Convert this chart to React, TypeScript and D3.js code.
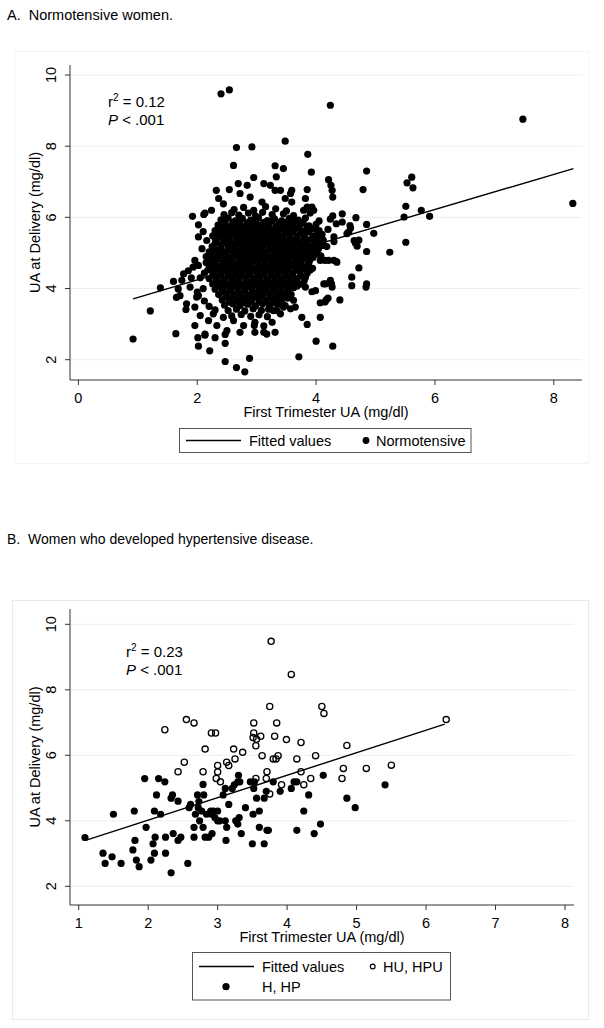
import React from "react";
import * as d3 from "d3";

// tick values
const xTicksA = [0, 2, 4, 6, 8];
const xTicksB = [1, 2, 3, 4, 5, 6, 7, 8];
const yTicks = [2, 4, 6, 8, 10];

// fitted regression lines (end points)
const fitA: [number, number][] = [[0.92, 3.71], [8.33, 7.37]];
const fitB: [number, number][] = [[1.11, 3.41], [6.27, 6.95]];

// panel A, normotensive women: scattered points around the cloud
const normoSpread: [number, number][] = [
  [0.92, 2.58], [1.21, 3.37], [1.38, 4.02], [1.64, 2.73], [1.81, 3.41], [2.40, 9.47], [2.54, 9.58], [4.24, 9.15],
  [7.48, 8.76], [8.32, 6.39], [2.66, 7.96], [2.92, 7.98], [3.48, 8.14], [2.61, 7.46], [3.31, 7.45], [3.45, 7.37],
  [3.86, 7.77], [3.92, 7.27], [3.33, 7.14], [1.92, 6.03], [2.11, 6.08], [2.02, 5.79], [2.02, 2.38], [2.21, 2.25],
  [2.47, 1.95], [2.66, 1.78], [2.80, 1.66], [2.88, 2.04], [3.71, 2.08], [4.00, 2.52], [4.28, 2.38], [3.76, 3.19],
  [3.85, 2.99], [4.07, 3.19], [2.01, 2.62], [2.13, 2.69], [2.30, 2.62], [1.96, 2.96], [2.47, 2.46], [2.47, 2.71],
  [2.97, 2.77], [3.17, 2.72], [2.96, 2.96], [3.12, 2.95], [4.21, 7.06], [4.25, 6.90], [4.27, 6.76], [4.28, 6.57],
  [4.85, 7.30], [4.79, 6.78], [5.61, 7.13], [5.53, 6.97], [5.63, 6.83], [5.51, 6.31], [5.77, 6.20], [5.91, 6.03],
  [5.48, 6.01], [5.51, 5.30], [5.24, 5.02], [4.97, 5.55], [4.85, 5.80], [4.85, 5.04], [4.67, 5.99], [4.57, 5.77],
  [4.44, 6.10], [4.28, 6.04], [4.34, 5.82], [4.58, 5.70], [4.66, 5.28], [4.72, 4.58], [4.60, 4.32], [4.60, 4.08],
  [4.85, 4.13], [4.84, 4.04], [4.40, 3.68], [4.21, 4.79], [4.07, 4.79], [4.34, 4.76], [4.17, 3.68], [4.07, 3.60],
  [3.96, 6.20], [3.85, 6.29], [4.30, 5.45], [4.55, 5.59], [4.64, 5.35], [4.13, 5.21], [4.07, 5.45], [3.99, 5.07],
  [4.24, 4.23], [4.13, 4.13], [4.26, 4.13], [3.99, 3.94], [4.52, 5.54], [4.72, 5.36], [4.69, 5.19], [4.24, 5.95],
  [4.44, 5.87], [2.95, 7.12], [2.69, 6.95], [2.84, 6.90], [2.54, 6.78], [2.32, 6.76], [2.36, 6.53], [2.44, 6.38],
  [2.24, 6.20], [2.13, 6.12], [2.72, 6.67], [2.89, 6.57], [3.09, 6.43], [3.12, 6.95], [3.23, 6.90], [3.31, 6.76],
  [3.59, 6.76], [3.57, 6.67], [3.85, 6.78], [3.82, 6.53], [3.40, 6.76], [3.48, 6.53], [3.59, 6.43], [3.79, 6.20],
  [3.93, 6.29], [2.02, 5.45], [2.16, 5.35], [2.08, 5.12], [1.96, 4.79], [1.93, 4.60], [2.02, 4.65], [1.77, 4.41],
  [1.74, 4.23], [1.68, 3.99], [1.71, 3.80], [1.88, 4.04], [1.82, 3.57], [1.99, 3.76], [1.96, 3.48], [2.05, 3.24],
  [2.13, 2.72], [2.19, 3.10], [2.33, 2.96], [2.50, 2.82], [2.72, 2.77], [3.12, 2.77], [2.97, 3.05], [2.78, 2.96],
  [2.61, 3.10], [2.44, 3.19], [2.27, 3.29], [3.93, 3.91], [3.82, 4.04], [3.62, 3.67], [3.51, 3.86], [3.39, 3.76],
  [3.34, 3.57], [3.45, 3.48], [3.57, 3.43], [3.65, 3.48], [3.40, 3.29], [3.28, 3.38], [3.26, 3.05], [3.31, 2.77],
  [4.15, 3.62], [4.20, 3.73], [4.16, 4.13], [4.27, 4.04], [4.35, 4.74], [4.30, 4.79], [4.15, 4.79], [2.10, 5.60],
  [2.15, 4.90], [2.05, 4.30], [2.10, 4.00], [2.00, 3.90], [1.90, 4.30], [2.12, 3.65], [2.20, 3.50], [2.30, 3.40],
  [1.85, 4.50], [1.60, 4.20], [1.65, 3.75], [2.02, 3.80],
];

// panel A: the dense middle of the cloud
const normoCore: [number, number][] = [
  [2.62, 6.22], [2.78, 6.28], [2.95, 6.2], [3.15, 6.3], [3.32, 6.24], [3.5, 6.18],
  [2.45, 6.08], [2.58, 6.13], [2.7, 6.06], [2.86, 6.12], [2.98, 6.04], [3.1, 6.14], [3.26, 6.08], [3.45, 6.1], [3.62, 6.05], [3.9, 6.12],
  [2.4, 5.93], [2.52, 5.98], [2.64, 5.9], [2.76, 5.97], [2.9, 5.92], [3.03, 5.99], [3.18, 5.91], [3.3, 5.96], [3.42, 5.9], [3.55, 5.97], [3.7, 5.92], [3.82, 5.98], [4.05, 5.9],
  [2.35, 5.78], [2.47, 5.83], [2.58, 5.76], [2.7, 5.82], [2.82, 5.77], [2.94, 5.84], [3.06, 5.78], [3.2, 5.82], [3.34, 5.76], [3.47, 5.83], [3.6, 5.78], [3.74, 5.81], [3.88, 5.76], [4.0, 5.8],
  [2.3, 5.63], [2.42, 5.68], [2.55, 5.62], [2.66, 5.67], [2.78, 5.61], [2.9, 5.66], [3.0, 5.62], [3.12, 5.68], [3.25, 5.63], [3.38, 5.67], [3.5, 5.61], [3.63, 5.66], [3.78, 5.62], [3.92, 5.67], [4.05, 5.63], [4.2, 5.66],
  [2.26, 5.48], [2.38, 5.52], [2.5, 5.47], [2.6, 5.53], [2.72, 5.49], [2.84, 5.52], [2.96, 5.46], [3.08, 5.51], [3.18, 5.48], [3.3, 5.53], [3.42, 5.47], [3.55, 5.52], [3.68, 5.48], [3.8, 5.51], [3.95, 5.47], [4.1, 5.52],
  [2.32, 5.33], [2.44, 5.37], [2.56, 5.32], [2.68, 5.36], [2.8, 5.31], [2.9, 5.37], [3.02, 5.33], [3.14, 5.36], [3.26, 5.32], [3.36, 5.38], [3.48, 5.33], [3.6, 5.36], [3.72, 5.31], [3.86, 5.37], [4.0, 5.33], [4.12, 5.36], [4.3, 5.32],
  [2.25, 5.18], [2.4, 5.22], [2.52, 5.17], [2.63, 5.23], [2.75, 5.19], [2.86, 5.22], [2.98, 5.16], [3.1, 5.21], [3.22, 5.18], [3.32, 5.23], [3.44, 5.17], [3.56, 5.22], [3.66, 5.18], [3.78, 5.21], [3.9, 5.17], [4.05, 5.22], [4.18, 5.18],
  [2.2, 5.03], [2.34, 5.07], [2.46, 5.02], [2.58, 5.06], [2.7, 5.01], [2.82, 5.07], [2.93, 5.03], [3.05, 5.06], [3.16, 5.02], [3.28, 5.08], [3.4, 5.03], [3.52, 5.06], [3.62, 5.01], [3.74, 5.07], [3.86, 5.03], [3.98, 5.06],
  [2.28, 4.88], [2.4, 4.92], [2.52, 4.87], [2.64, 4.93], [2.76, 4.89], [2.88, 4.92], [3.0, 4.86], [3.1, 4.91], [3.22, 4.88], [3.34, 4.93], [3.46, 4.87], [3.58, 4.92], [3.7, 4.88], [3.82, 4.91], [3.95, 4.87], [4.08, 4.92],
  [2.15, 4.73], [2.3, 4.77], [2.43, 4.72], [2.55, 4.76], [2.67, 4.71], [2.79, 4.77], [2.9, 4.73], [3.02, 4.76], [3.14, 4.72], [3.26, 4.78], [3.38, 4.73], [3.5, 4.76], [3.62, 4.71], [3.75, 4.77], [3.88, 4.73],
  [2.22, 4.58], [2.36, 4.62], [2.48, 4.57], [2.6, 4.63], [2.72, 4.59], [2.84, 4.62], [2.96, 4.56], [3.08, 4.61], [3.2, 4.58], [3.3, 4.63], [3.42, 4.57], [3.54, 4.62], [3.66, 4.58], [3.8, 4.61], [3.94, 4.57],
  [2.12, 4.43], [2.28, 4.47], [2.4, 4.42], [2.52, 4.46], [2.64, 4.41], [2.76, 4.47], [2.88, 4.43], [3.0, 4.46], [3.12, 4.42], [3.24, 4.48], [3.36, 4.43], [3.48, 4.46], [3.6, 4.41], [3.72, 4.47], [3.85, 4.43],
  [2.2, 4.28], [2.34, 4.32], [2.46, 4.27], [2.58, 4.33], [2.7, 4.29], [2.82, 4.32], [2.94, 4.26], [3.06, 4.31], [3.18, 4.28], [3.3, 4.33], [3.42, 4.27], [3.55, 4.32], [3.68, 4.28], [3.82, 4.31],
  [2.26, 4.13], [2.4, 4.17], [2.52, 4.12], [2.64, 4.16], [2.76, 4.11], [2.88, 4.17], [3.0, 4.13], [3.12, 4.16], [3.24, 4.12], [3.36, 4.18], [3.48, 4.13], [3.6, 4.16], [3.74, 4.12],
  [2.3, 3.98], [2.44, 4.02], [2.56, 3.97], [2.68, 4.03], [2.8, 3.99], [2.92, 4.02], [3.04, 3.96], [3.16, 4.01], [3.28, 3.98], [3.4, 4.03], [3.52, 3.97], [3.62, 4.02],
  [2.36, 3.83], [2.5, 3.87], [2.62, 3.82], [2.74, 3.86], [2.86, 3.81], [2.98, 3.87], [3.1, 3.83], [3.22, 3.86], [3.34, 3.82], [3.46, 3.88], [3.58, 3.83],
  [2.42, 3.68], [2.55, 3.72], [2.68, 3.67], [2.8, 3.73], [2.92, 3.69], [3.04, 3.72], [3.16, 3.66], [3.28, 3.71], [3.4, 3.68], [3.52, 3.73],
  [2.46, 3.53], [2.6, 3.57], [2.72, 3.52], [2.85, 3.56], [2.98, 3.51], [3.1, 3.57], [3.22, 3.53], [3.36, 3.56], [3.48, 3.52],
  [2.52, 3.38], [2.66, 3.42], [2.8, 3.37], [2.94, 3.43], [3.08, 3.39], [3.2, 3.42], [3.34, 3.38],
  [2.58, 3.23], [2.74, 3.27], [2.9, 3.22], [3.04, 3.26], [3.18, 3.21],
];

// panel A: more points packed between the core ones
const normoFill: [number, number][] = [
  [2.46, 5.88], [2.6, 5.86], [2.72, 5.89], [2.85, 5.85], [2.98, 5.88], [3.12, 5.86], [3.25, 5.89], [3.38, 5.85], [3.5, 5.87], [3.64, 5.88], [3.78, 5.86],
  [2.38, 5.72], [2.5, 5.74], [2.62, 5.7], [2.74, 5.73], [2.86, 5.71], [2.96, 5.74], [3.08, 5.7], [3.2, 5.72], [3.32, 5.74], [3.45, 5.7], [3.56, 5.73], [3.7, 5.71], [3.85, 5.73], [3.98, 5.7],
  [2.34, 5.57], [2.46, 5.59], [2.58, 5.55], [2.7, 5.58], [2.82, 5.56], [2.92, 5.59], [3.04, 5.55], [3.14, 5.58], [3.26, 5.56], [3.36, 5.59], [3.48, 5.55], [3.6, 5.58], [3.74, 5.56], [3.88, 5.59], [4.02, 5.56],
  [2.3, 5.42], [2.42, 5.44], [2.54, 5.4], [2.66, 5.43], [2.76, 5.41], [2.88, 5.44], [3.0, 5.4], [3.1, 5.43], [3.22, 5.41], [3.34, 5.44], [3.44, 5.4], [3.56, 5.43], [3.68, 5.41], [3.8, 5.44], [3.94, 5.4], [4.06, 5.42],
  [2.3, 5.27], [2.46, 5.29], [2.58, 5.25], [2.7, 5.28], [2.82, 5.26], [2.94, 5.29], [3.06, 5.25], [3.16, 5.28], [3.28, 5.26], [3.4, 5.29], [3.52, 5.25], [3.62, 5.28], [3.74, 5.26], [3.84, 5.29], [3.96, 5.25], [4.1, 5.27],
  [2.28, 5.12], [2.4, 5.14], [2.52, 5.1], [2.64, 5.13], [2.76, 5.11], [2.88, 5.14], [3.0, 5.1], [3.1, 5.13], [3.22, 5.11], [3.34, 5.14], [3.46, 5.1], [3.58, 5.13], [3.68, 5.11], [3.8, 5.14], [3.92, 5.1], [4.04, 5.12],
  [2.24, 4.97], [2.36, 4.99], [2.48, 4.95], [2.6, 4.98], [2.72, 4.96], [2.84, 4.99], [2.96, 4.95], [3.06, 4.98], [3.18, 4.96], [3.3, 4.99], [3.42, 4.95], [3.54, 4.98], [3.66, 4.96], [3.78, 4.99], [3.9, 4.95], [4.02, 4.97],
  [2.22, 4.82], [2.35, 4.84], [2.47, 4.8], [2.58, 4.83], [2.7, 4.81], [2.82, 4.84], [2.94, 4.8], [3.06, 4.83], [3.18, 4.81], [3.3, 4.84], [3.42, 4.8], [3.54, 4.83], [3.66, 4.81], [3.78, 4.84], [3.9, 4.82],
  [2.2, 4.67], [2.3, 4.69], [2.42, 4.65], [2.54, 4.68], [2.66, 4.66], [2.78, 4.69], [2.9, 4.65], [3.02, 4.68], [3.14, 4.66], [3.26, 4.69], [3.36, 4.65], [3.48, 4.68], [3.6, 4.66], [3.72, 4.69], [3.86, 4.67],
  [2.18, 4.52], [2.32, 4.54], [2.44, 4.5], [2.56, 4.53], [2.68, 4.51], [2.8, 4.54], [2.92, 4.5], [3.04, 4.53], [3.16, 4.51], [3.28, 4.54], [3.4, 4.5], [3.52, 4.53], [3.64, 4.51], [3.76, 4.54], [3.9, 4.52],
  [2.26, 4.37], [2.4, 4.39], [2.52, 4.35], [2.64, 4.38], [2.76, 4.36], [2.88, 4.39], [3.0, 4.35], [3.12, 4.38], [3.24, 4.36], [3.36, 4.39], [3.48, 4.35], [3.6, 4.38], [3.74, 4.37],
  [2.32, 4.22], [2.46, 4.24], [2.58, 4.2], [2.7, 4.23], [2.82, 4.21], [2.94, 4.24], [3.06, 4.2], [3.18, 4.23], [3.3, 4.21], [3.42, 4.24], [3.54, 4.2], [3.66, 4.23], [3.8, 4.22],
  [2.36, 4.07], [2.48, 4.09], [2.6, 4.05], [2.72, 4.08], [2.84, 4.06], [2.96, 4.09], [3.08, 4.05], [3.2, 4.08], [3.32, 4.06], [3.44, 4.09], [3.56, 4.05], [3.68, 4.07],
  [2.42, 3.92], [2.56, 3.94], [2.68, 3.9], [2.8, 3.93], [2.92, 3.91], [3.04, 3.94], [3.16, 3.9], [3.28, 3.93], [3.4, 3.91], [3.52, 3.92],
  [2.48, 3.77], [2.62, 3.79], [2.74, 3.75], [2.86, 3.78], [2.98, 3.76], [3.1, 3.79], [3.22, 3.75], [3.34, 3.78], [3.46, 3.77],
  [2.54, 3.62], [2.66, 3.64], [2.78, 3.6], [2.9, 3.63], [3.04, 3.61], [3.16, 3.64], [3.28, 3.6], [3.42, 3.62],
];

// panel B: H, HP (filled)
const hpFilled: [number, number][] = [
  [1.09, 3.49], [1.35, 3.01], [1.38, 2.70], [1.48, 2.90], [1.50, 4.20], [1.61, 2.70], [1.80, 4.30], [1.78, 3.11],
  [1.81, 3.40], [1.83, 2.80], [1.87, 2.60], [1.95, 5.29], [1.97, 3.80], [2.04, 2.80], [2.07, 3.30], [2.09, 4.30],
  [2.10, 3.50], [2.09, 3.01], [2.12, 4.79], [2.15, 5.29], [2.18, 4.20], [2.24, 5.19], [2.25, 3.50], [2.25, 3.01],
  [2.33, 2.41], [2.33, 4.69], [2.35, 4.79], [2.36, 3.61], [2.43, 4.60], [2.43, 3.40], [2.47, 3.50], [2.57, 2.70],
  [2.59, 4.40], [2.61, 4.50], [2.66, 3.80], [2.66, 3.50], [2.68, 4.20], [2.71, 4.79], [2.72, 4.40], [2.73, 4.59],
  [2.74, 4.00], [2.77, 4.30], [2.79, 5.11], [2.80, 4.79], [2.79, 3.80], [2.82, 3.50], [2.84, 4.20], [2.87, 3.50],
  [2.90, 4.30], [2.92, 3.61], [2.91, 4.20], [2.94, 4.30], [2.96, 4.10], [3.00, 4.00], [3.00, 4.30], [3.03, 4.00],
  [3.08, 4.79], [3.11, 4.99], [3.11, 4.00], [3.13, 3.80], [3.12, 3.40], [3.16, 4.50], [3.21, 4.99], [3.24, 5.10],
  [3.26, 4.00], [3.29, 5.19], [3.30, 5.39], [3.29, 3.90], [3.31, 4.10], [3.34, 3.61], [3.32, 5.19], [3.40, 4.40],
  [3.47, 5.19], [3.50, 3.30], [3.51, 4.20], [3.52, 4.99], [3.53, 5.19], [3.56, 4.69], [3.60, 4.30], [3.60, 3.80],
  [3.67, 4.69], [3.67, 3.30], [3.70, 4.90], [3.71, 3.71], [3.73, 3.71], [3.80, 5.19], [3.90, 4.90], [4.06, 4.99],
  [4.10, 5.19], [4.14, 5.19], [4.14, 3.71], [4.24, 4.30], [4.31, 4.79], [4.39, 3.61], [4.48, 3.90], [4.52, 5.39],
  [4.86, 4.69], [4.98, 4.40], [5.41, 5.10],
];

// panel B: HU, HPU (open)
const hpuOpen: [number, number][] = [
  [3.77, 9.48], [4.06, 8.47], [3.75, 7.49], [4.50, 7.49], [4.53, 7.28], [2.24, 6.78], [2.55, 7.09], [2.66, 6.99],
  [2.91, 6.68], [2.97, 6.68], [3.52, 6.99], [3.52, 6.68], [3.51, 6.54], [3.56, 6.49], [3.55, 6.29], [3.62, 6.58],
  [3.85, 6.99], [3.82, 6.58], [3.99, 6.48], [4.20, 6.39], [2.82, 6.19], [3.23, 6.19], [3.36, 6.09], [3.64, 5.99],
  [3.25, 5.89], [3.13, 5.79], [3.16, 5.69], [3.00, 5.69], [3.00, 5.49], [2.98, 5.29], [3.04, 5.19], [2.52, 5.79],
  [2.43, 5.50], [2.79, 5.50], [3.80, 5.89], [3.84, 5.89], [3.87, 5.99], [4.14, 5.89], [4.41, 5.99], [3.71, 5.50],
  [3.70, 5.29], [3.55, 5.29], [3.75, 4.82], [3.92, 5.10], [4.20, 5.50], [4.24, 5.10], [4.34, 5.29], [4.86, 6.30],
  [4.81, 5.60], [5.14, 5.60], [5.50, 5.70], [4.79, 5.29], [6.29, 7.09],
];

const font = "'Liberation Sans', Arial, Helvetica, sans-serif";
const gridColor = "#e8f0f1";
const axisColor = "#333";

type Box = { left: number; right: number; top: number; bottom: number };

function Axes({ box, x, y, xTicks }: { box: Box; x: any; y: any; xTicks: number[] }) {
  const midX = (box.left + box.right) / 2;
  const midY = (box.top + box.bottom) / 2;
  return (
    <g fontFamily={font} fontSize={14.5} fill="#000">
      {yTicks.map((t) => (
        <line key={"g" + t} x1={box.left} x2={box.right} y1={y(t)} y2={y(t)} stroke={gridColor} strokeWidth={1} />
      ))}
      <line x1={box.left} x2={box.left} y1={box.top} y2={box.bottom} stroke={axisColor} />
      <line x1={box.left} x2={box.right} y1={box.bottom} y2={box.bottom} stroke={axisColor} />
      {yTicks.map((t) => (
        <g key={"y" + t}>
          <line x1={box.left - 5} x2={box.left} y1={y(t)} y2={y(t)} stroke={axisColor} />
          <text transform={`translate(${box.left - 14},${y(t)}) rotate(-90)`} textAnchor="middle">{t}</text>
        </g>
      ))}
      {xTicks.map((t) => (
        <g key={"x" + t}>
          <line x1={x(t)} x2={x(t)} y1={box.bottom} y2={box.bottom + 5} stroke={axisColor} />
          <text x={x(t)} y={box.bottom + 23} textAnchor="middle">{t}</text>
        </g>
      ))}
      <text x={midX} y={box.bottom + 37} textAnchor="middle">First Trimester UA (mg/dl)</text>
      <text transform={`translate(40,${midY}) rotate(-90)`} textAnchor="middle">UA at Delivery (mg/dl)</text>
    </g>
  );
}

function Stats({ x, y, r2 }: { x: number; y: number; r2: string }) {
  return (
    <g fontFamily={font} fontSize={15}>
      <text x={x} y={y}>
        r<tspan dy={-6} fontSize={10}>2</tspan>
        <tspan dy={6}> = {r2}</tspan>
      </text>
      <text x={x} y={y + 18}>
        <tspan fontStyle="italic">P</tspan> &lt; .001
      </text>
    </g>
  );
}

export default function App() {
  const boxA: Box = { left: 70, right: 582, top: 65, bottom: 380 };
  const xA = d3.scaleLinear().domain([0, 8]).range([78.4, 553.8]);
  const yA = d3.scaleLinear().domain([2, 10]).range([359.7, 75]);

  const boxB: Box = { left: 70, right: 574, top: 609, bottom: 905 };
  const xB = d3.scaleLinear().domain([1, 8]).range([78.7, 565]);
  const yB = d3.scaleLinear().domain([2, 10]).range([886.3, 624.3]);

  const lineA = d3.line<[number, number]>().x((d) => xA(d[0])).y((d) => yA(d[1]));
  const lineB = d3.line<[number, number]>().x((d) => xB(d[0])).y((d) => yB(d[1]));
  const normo = [...normoSpread, ...normoCore, ...normoFill];

  return (
    <svg width={604} height={1028} style={{ position: "absolute", left: 0, top: 0, background: "#fff" }}>
      {/* panel A */}
      <text x={7} y={20} fontFamily={font} fontSize={14.5}>A.&#160; Normotensive women.</text>
      <rect x={14.5} y={51.5} width={574} height={412} fill="none" stroke="#f2f5f6" />
      <Axes box={boxA} x={xA} y={yA} xTicks={xTicksA} />
      <path d={lineA(fitA) || ""} stroke="#000" strokeWidth={1.4} fill="none" />
      {normo.map((d, i) => (
        <circle key={i} cx={xA(d[0])} cy={yA(d[1])} r={3.6} fill="#000" />
      ))}
      <Stats x={108} y={107} r2="0.12" />
      <g fontFamily={font} fontSize={14.5}>
        <rect x={179.5} y={428.5} width={291.5} height={24} fill="#fff" stroke="#555" />
        <line x1={186} x2={241} y1={440.5} y2={440.5} stroke="#000" strokeWidth={1.4} />
        <text x={249} y={445.5}>Fitted values</text>
        <circle cx={366} cy={440.5} r={3.4} fill="#000" />
        <text x={376} y={445.5}>Normotensive</text>
      </g>

      {/* panel B */}
      <text x={7} y={544} fontFamily={font} fontSize={14}>B.&#160; Women who developed hypertensive disease.</text>
      <rect x={12.5} y={600.5} width={576} height={419} fill="none" stroke="#e3ebee" />
      <Axes box={boxB} x={xB} y={yB} xTicks={xTicksB} />
      <path d={lineB(fitB) || ""} stroke="#000" strokeWidth={1.4} fill="none" />
      {hpuOpen.map((d, i) => (
        <circle key={"o" + i} cx={xB(d[0])} cy={yB(d[1])} r={3.1} fill="none" stroke="#000" strokeWidth={1.3} />
      ))}
      {hpFilled.map((d, i) => (
        <circle key={"f" + i} cx={xB(d[0])} cy={yB(d[1])} r={3.6} fill="#000" />
      ))}
      <Stats x={126} y={657} r2="0.23" />
      <g fontFamily={font} fontSize={14.5}>
        <rect x={192.5} y={952.5} width={258} height={47.5} fill="#fff" stroke="#555" />
        <line x1={199} x2={254} y1={966.5} y2={966.5} stroke="#000" strokeWidth={1.4} />
        <text x={262} y={971.5}>Fitted values</text>
        <circle cx={372.7} cy={966.5} r={2.4} fill="none" stroke="#000" strokeWidth={1.2} />
        <text x={383} y={971.5}>HU, HPU</text>
        <circle cx={226} cy={986.7} r={3.6} fill="#000" />
        <text x={262} y={991.5}>H, HP</text>
      </g>
    </svg>
  );
}
